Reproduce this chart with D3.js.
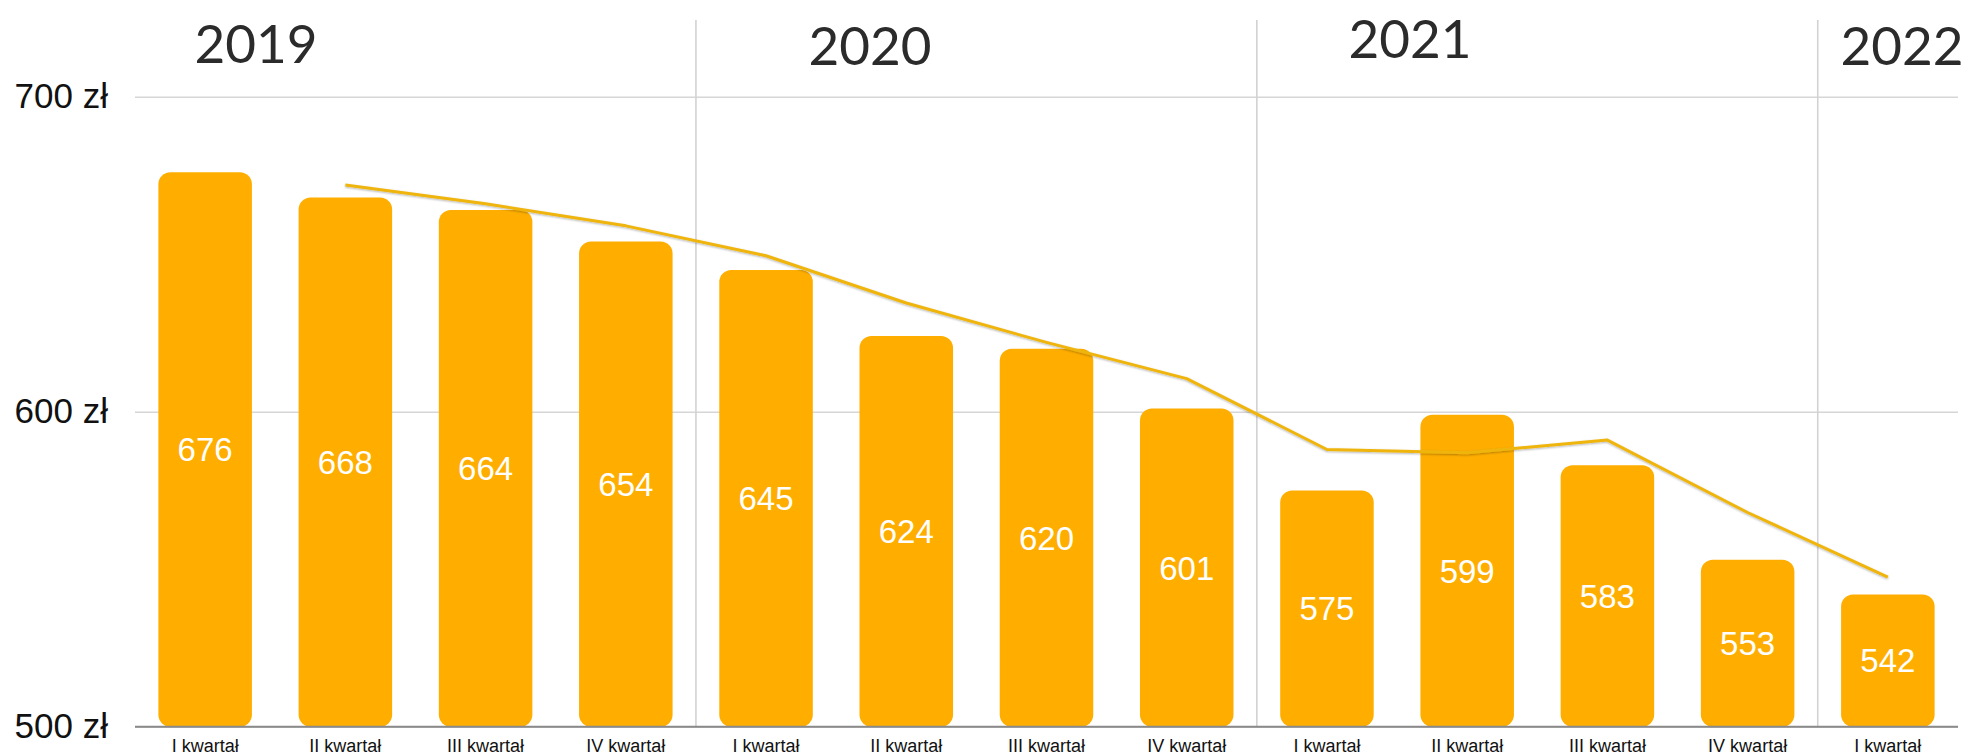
<!DOCTYPE html>
<html>
<head>
<meta charset="utf-8">
<script src="https://cdn.jsdelivr.net/npm/d3@7"></script>
<style>
  body { margin: 0; background: #fff; }
  svg { display: block; }
</style>
</head>
<body>
<script>
// quarterly values (zł)
const quarters = ["I kwartał", "II kwartał", "III kwartał", "IV kwartał",
                  "I kwartał", "II kwartał", "III kwartał", "IV kwartał",
                  "I kwartał", "II kwartał", "III kwartał", "IV kwartał",
                  "I kwartał"];
const values = [676, 668, 664, 654, 645, 624, 620, 601, 575, 599, 583, 553, 542];
// trend line, starts at 2nd quarter
const trend = [null, 672, 666, 659, 649.5, 634.5, 622, 610.5, 588, 587, 591, 568, 547.5];
const years = ["2019", "2020", "2021", "2022"];
const yearStart = [0, 4, 8, 12];
const yTicks = [500, 600, 700];

// layout
const W = 1976, H = 755;
const plotLeft = 135, plotRight = 1958, plotTop = 96.7, plotBottom = 726.7;
const yearX = [256, 870, 1410, 1902];
const yearBase = [63, 65, 58, 65];

const svg = d3.select("body").append("svg")
  .attr("width", W)
  .attr("height", H);

const defs = svg.append("defs");
defs.append("filter").attr("id", "shadow")
  .attr("x", "-5%").attr("y", "-20%").attr("width", "110%").attr("height", "140%")
  .append("feDropShadow")
  .attr("dx", 0).attr("dy", 1).attr("stdDeviation", 0.8)
  .attr("flood-color", "#000").attr("flood-opacity", 0.3);

const x = d3.scaleBand()
  .domain(d3.range(values.length))
  .range([plotLeft, plotRight])
  .paddingInner(0.333)
  .paddingOuter(0.1667);

const y = d3.scaleLinear()
  .domain([500, 700])
  .range([plotBottom, plotTop]);

// y axis with gridlines
const yAxis = svg.append("g")
  .attr("transform", `translate(${plotLeft},0)`)
  .call(d3.axisLeft(y)
    .tickValues(yTicks)
    .tickFormat(d => d + " zł")
    .tickSizeInner(-(plotRight - plotLeft))
    .tickSizeOuter(0)
    .tickPadding(27));
yAxis.select(".domain").remove();
yAxis.selectAll(".tick line")
  .attr("stroke", "#d6d6d6")
  .attr("stroke-width", 1.6);
yAxis.selectAll(".tick text")
  .attr("fill", "#111")
  .attr("font-family", "Liberation Sans, Arial, sans-serif")
  .attr("font-size", 35);

// year separators
svg.selectAll("line.sep")
  .data(yearStart.slice(1))
  .enter().append("line")
  .attr("class", "sep")
  .attr("x1", d => x(d) - x.step() * x.paddingInner() / 2)
  .attr("x2", d => x(d) - x.step() * x.paddingInner() / 2)
  .attr("y1", 20)
  .attr("y2", plotBottom)
  .attr("stroke", "#d2d2d2")
  .attr("stroke-width", 1.6);

// year labels
svg.selectAll("text.year")
  .data(years)
  .enter().append("text")
  .attr("class", "year")
  .attr("x", (d, i) => yearX[i])
  .attr("y", (d, i) => yearBase[i])
  .attr("text-anchor", "middle")
  .attr("fill", "#2b2b2b")
  .attr("font-family", "Lato, sans-serif")
  .attr("font-weight", 400)
  .attr("font-size", 53)
  .text(d => d);

// bars
svg.selectAll("rect.bar")
  .data(values)
  .enter().append("rect")
  .attr("class", "bar")
  .attr("x", (d, i) => x(i))
  .attr("y", d => y(d))
  .attr("width", x.bandwidth())
  .attr("height", d => plotBottom - y(d))
  .attr("rx", 12)
  .attr("fill", "#ffae00");

// value labels
svg.selectAll("text.val")
  .data(values)
  .enter().append("text")
  .attr("class", "val")
  .attr("x", (d, i) => x(i) + x.bandwidth() / 2)
  .attr("y", d => (y(d) + plotBottom) / 2)
  .attr("dy", "0.36em")
  .attr("text-anchor", "middle")
  .attr("fill", "#fff")
  .attr("font-family", "Liberation Sans, Arial, sans-serif")
  .attr("font-size", 33)
  .text(d => d);

// baseline
svg.append("line")
  .attr("x1", plotLeft).attr("x2", plotRight)
  .attr("y1", plotBottom).attr("y2", plotBottom)
  .attr("stroke", "#8a8a8a")
  .attr("stroke-width", 2);

// x axis labels
const xAxis = svg.append("g")
  .attr("transform", `translate(0,${plotBottom})`)
  .call(d3.axisBottom(x)
    .tickFormat(i => quarters[i])
    .tickSize(0)
    .tickPadding(13));
xAxis.select(".domain").remove();
xAxis.selectAll(".tick text")
  .attr("fill", "#111")
  .attr("font-family", "Liberation Sans, Arial, sans-serif")
  .attr("font-size", 18);

// trend line
const line = d3.line()
  .defined(d => d != null)
  .x((d, i) => x(i) + x.bandwidth() / 2)
  .y(d => y(d));

svg.append("path")
  .datum(trend)
  .attr("d", line)
  .attr("fill", "none")
  .attr("stroke", "#efb50f")
  .attr("stroke-width", 3)
  .attr("stroke-linejoin", "round")
  .attr("filter", "url(#shadow)");
</script>
</body>
</html>
